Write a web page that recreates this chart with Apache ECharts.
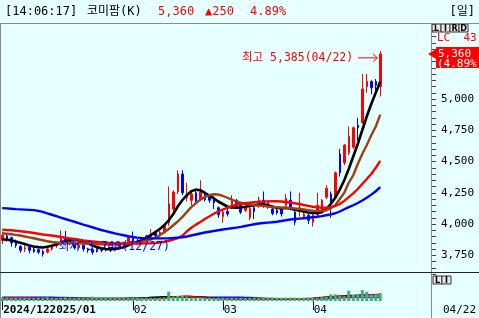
<!DOCTYPE html>
<html><head><meta charset="utf-8">
<script src="https://cdn.jsdelivr.net/npm/echarts@6/dist/echarts.min.js"></script>
<style>html,body{margin:0;padding:0;background:#e6ffff}#c{width:479px;height:318px}</style>
</head><body><div id="c"></div>
<script>
// ---------------- data ----------------
const dates = [
 '2024/12/13','2024/12/16','2024/12/17','2024/12/18','2024/12/19','2024/12/20','2024/12/23','2024/12/24','2024/12/26','2024/12/27','2024/12/30',
 '2025/01/02','2025/01/03','2025/01/06','2025/01/07','2025/01/08','2025/01/09','2025/01/10','2025/01/13','2025/01/14','2025/01/15','2025/01/16','2025/01/17','2025/01/20','2025/01/21','2025/01/22','2025/01/23','2025/01/24','2025/01/31',
 '2025/02/03','2025/02/04','2025/02/05','2025/02/06','2025/02/07','2025/02/10','2025/02/11','2025/02/12','2025/02/13','2025/02/14','2025/02/17','2025/02/18','2025/02/19','2025/02/20','2025/02/21','2025/02/24','2025/02/25','2025/02/26','2025/02/27','2025/02/28',
 '2025/03/04','2025/03/05','2025/03/06','2025/03/07','2025/03/10','2025/03/11','2025/03/12','2025/03/13','2025/03/14','2025/03/17','2025/03/18','2025/03/19','2025/03/20','2025/03/21','2025/03/24','2025/03/25','2025/03/26','2025/03/27','2025/03/28','2025/03/31',
 '2025/04/01','2025/04/02','2025/04/03','2025/04/04','2025/04/07','2025/04/08','2025/04/09','2025/04/10','2025/04/11','2025/04/14','2025/04/15','2025/04/16','2025/04/17','2025/04/18','2025/04/21','2025/04/22'
];
const open = [
 3870,3905,3890,3860,3820,3800,3815,3800,3795,3780,
 3775,3800,3825,3850,3880,3870,3840,3810,3830,3800,
 3795,3780,3800,3790,3800,3790,3810,3830,3850,3890,
 3860,3850,3870,3900,3925,3905,3935,4010,4120,4260,
 4400,4210,4190,4250,4200,4230,4220,4210,4130,4060,
 4100,4150,4190,4150,4110,4050,4130,4145,4190,4140,
 4120,4110,4120,4150,4190,4095,4100,4060,4070,4015,
 4075,4110,4215,4240,4215,4560,4490,4570,4615,4790,
 4810,5100,5140,5140,5100];
const close = [
 3910,3880,3850,3830,3790,3810,3790,3780,3775,3760,
 3800,3820,3850,3880,3860,3845,3810,3830,3800,3790,
 3775,3800,3790,3800,3790,3810,3830,3850,3895,3860,
 3850,3875,3905,3925,3905,3935,3995,4160,4255,4400,
 4250,4245,4240,4185,4255,4195,4190,4170,4075,4095,
 4080,4190,4135,4095,4140,4125,4100,4190,4150,4175,
 4085,4090,4080,4205,4130,4015,4130,4080,4030,4070,
 4150,4190,4285,4175,4410,4410,4630,4700,4770,4770,
 5080,5140,5090,5110,5360];
const low = [
 3840,3860,3820,3810,3770,3775,3765,3770,3760,3740,
 3765,3785,3810,3840,3835,3830,3795,3800,3780,3770,
 3755,3770,3775,3780,3775,3780,3800,3815,3840,3840,
 3830,3840,3860,3880,3890,3895,3925,3985,4100,4240,
 4230,4180,4150,4170,4190,4180,4170,4120,4050,4010,
 4060,4120,4120,4080,4095,4030,4040,4130,4130,4120,
 4070,4075,4060,4120,4110,3990,4060,4040,4000,3980,
 4060,4090,4200,4050,4200,4380,4470,4550,4600,4670,
 4800,5050,5040,5060,5020];
const high = [
 3940,3925,3900,3875,3830,3830,3830,3820,3805,3795,
 3815,3830,3860,3950,3945,3885,3850,3845,3840,3810,
 3805,3815,3810,3815,3810,3820,3845,3860,3910,3940,
 3880,3885,3915,3960,3930,3945,4005,4300,4270,4430,
 4430,4330,4260,4270,4350,4250,4240,4220,4140,4110,
 4120,4230,4200,4160,4150,4140,4150,4220,4260,4190,
 4130,4120,4130,4240,4260,4110,4250,4100,4080,4080,
 4250,4200,4310,4260,4420,4600,4640,4780,4780,4850,
 5200,5200,5150,5160,5385];
const ma5 = [
 3878,3874,3870,3860,3850,3840,3828,3820,3815,3812,
 3818,3826,3836,3850,3862,3872,3878,3870,3858,3845,
 3830,3815,3806,3800,3798,3800,3806,3814,3830,3846,
 3858,3870,3890,3910,3935,3960,3990,4030,4080,4140,
 4190,4230,4262,4275,4270,4250,4228,4205,4180,4160,
 4140,4132,4130,4132,4138,4145,4150,4155,4158,4150,
 4140,4130,4125,4128,4125,4115,4108,4100,4092,4088,
 4088,4095,4120,4160,4210,4275,4350,4440,4540,4640,
 4750,4860,4960,5050,5140];
const ma20 = [
 3926,3922,3918,3913,3908,3900,3893,3886,3878,3870,
 3862,3856,3852,3849,3847,3846,3846,3846,3844,3842,
 3840,3838,3837,3836,3836,3838,3840,3842,3845,3848,
 3852,3858,3866,3876,3890,3910,3934,3960,3990,4020,
 4055,4095,4135,4165,4195,4215,4230,4238,4236,4225,
 4210,4195,4180,4170,4162,4156,4151,4148,4145,4140,
 4136,4134,4132,4130,4128,4124,4120,4116,4110,4106,
 4103,4104,4110,4125,4150,4200,4250,4330,4390,4480,
 4560,4630,4710,4780,4875];
const ma60 = [
 3955,3952,3950,3946,3942,3938,3934,3928,3922,3916,
 3912,3908,3902,3896,3890,3885,3880,3875,3868,3864,
 3860,3856,3852,3850,3848,3846,3845,3844,3843,3843,
 3843,3844,3845,3846,3848,3852,3858,3866,3876,3888,
 3905,3940,3970,3995,4015,4040,4060,4082,4100,4115,
 4130,4142,4152,4160,4166,4170,4174,4177,4179,4181,
 4182,4182,4180,4176,4172,4166,4160,4152,4145,4138,
 4134,4130,4130,4135,4145,4160,4185,4215,4245,4280,
 4320,4360,4400,4450,4505];
const ma120 = [
 4127,4125,4122,4119,4117,4115,4113,4111,4105,4097,
 4085,4074,4063,4051,4040,4029,4018,4007,3995,3985,
 3974,3963,3952,3943,3934,3925,3917,3910,3902,3896,
 3891,3888,3886,3885,3885,3885,3885,3886,3888,3891,
 3894,3900,3908,3916,3924,3932,3938,3944,3950,3956,
 3961,3966,3971,3977,3984,3991,3998,4004,4008,4011,
 4014,4018,4024,4030,4036,4040,4043,4046,4050,4054,
 4058,4063,4070,4077,4086,4100,4118,4135,4150,4168,
 4188,4210,4235,4262,4295];
const volume = [
 350,330,320,340,330,330,320,310,330,340,
 430,330,320,340,380,330,320,310,330,320,
 430,330,320,310,320,330,320,330,330,330,
 320,330,340,330,320,330,350,930,450,520,
 500,430,360,340,350,330,330,330,340,330,
 320,330,320,330,320,330,340,330,320,330,
 320,330,320,330,340,330,320,330,340,330,
 340,380,430,670,670,530,450,1030,600,670,
 1100,930,600,670,800];
const volMa5 = [
 310,310,310,300,300,300,290,280,270,260,
 240,230,230,230,230,230,230,230,230,230,
 230,230,230,230,230,230,230,230,230,230,
 230,230,230,230,230,240,260,330,380,420,
 470,500,470,400,340,300,270,240,230,230,
 230,230,230,230,230,230,230,230,230,230,
 230,230,230,230,230,230,230,230,230,240,
 260,290,330,360,380,400,420,450,480,520,
 560,600,630,650,660];
const volMa20 = [
 200,200,200,200,195,190,185,180,180,175,
 175,175,175,175,175,175,175,175,175,175,
 175,175,175,175,175,175,180,185,190,200,
 220,260,300,340,380,410,430,430,430,430,
 430,430,430,420,400,370,330,290,250,220,
 200,185,175,170,170,170,170,170,170,170,
 170,170,170,175,180,190,200,220,250,280,
 320,360,400,430,460,490,510,540,560,580,
 600,615,625,630,635];
const volMa60 = [
 370,370,370,370,370,370,370,370,370,370,
 370,365,360,350,340,330,320,310,300,290,
 280,275,270,270,270,270,275,280,290,300,
 310,320,330,340,350,355,360,365,370,370,
 370,370,370,370,370,370,370,370,370,370,
 370,370,370,365,355,340,320,300,280,260,
 240,220,210,200,200,200,200,200,200,200,
 200,210,230,260,290,320,345,360,370,372,
 372,372,372,372,372];
const monthLabels = ['2024/12','2025/01','02','03','04'];
const lowMark = {price: 3740, date: '12/27'};
const highMark = {price: 5385, date: '04/22'};
const header = {time: '[14:06:17]', name: '코미팜(K)', price: '5,360', change: '▲250', rate: '4.89%', period: '[일]'};
const lastPrice = 5360, lastRate = '(4.89%)';

// ---------------- build ----------------
const PAD = 11;
const cats = dates.concat(new Array(PAD).fill(''));
const monthStart = [];
dates.forEach((d, i) => { if (i === 0 || d.slice(0, 7) !== dates[i - 1].slice(0, 7)) monthStart.push(i); });
const shownTicks = [monthStart[0]].concat(monthStart.slice(2));
const tickFn = (idx) => shownTicks.indexOf(idx) >= 0;
const MONO = "'DejaVu Sans Mono','Noto Sans CJK KR',monospace";

const chart = echarts.init(document.getElementById('c'), null, {renderer: 'canvas'});
const candle = dates.map((d, i) => [open[i], close[i], low[i], high[i]]);
const maLine = (data, color, w, z) => ({type: 'line', xAxisIndex: 0, yAxisIndex: 0, data, symbol: 'none', showSymbol: false, z,
  lineStyle: {color, width: w}, silent: true});
const vLine = (data, color) => ({type: 'line', xAxisIndex: 1, yAxisIndex: 1, data, symbol: 'none', showSymbol: false, z: 1,
  lineStyle: {color, width: 1.5}, silent: true});

chart.setOption({
  backgroundColor: '#e6ffff',
  animation: false,
  grid: [{left: 0, top: 24, width: 432, height: 250}, {left: 0, top: 272, width: 432, height: 29}],
  xAxis: [
    {type: 'category', gridIndex: 0, data: cats, boundaryGap: true, axisLine: {show: false}, axisTick: {show: false}, axisLabel: {show: false}},
    {type: 'category', gridIndex: 1, data: cats, boundaryGap: true, axisLine: {show: false},
      axisTick: {show: true, alignWithLabel: true, interval: tickFn, length: 9, lineStyle: {color: '#000'}},
      axisLabel: {interval: tickFn, align: 'left', margin: 4, color: '#000', fontFamily: MONO, fontSize: 11, padding: [0, 0, 0, 1],
        formatter: (v, idx) => {
          if (idx === monthStart[0]) return '{b|' + monthLabels[0] + monthLabels[1] + '}';
          const k = monthStart.indexOf(idx);
          return k > 1 ? monthLabels[k] : '';
        },
        rich: {b: {fontWeight: 'bold', fontFamily: MONO, fontSize: 11, color: '#000'}}}}
  ],
  yAxis: [
    {type: 'value', gridIndex: 0, position: 'right', min: 3600, max: 5600, interval: 50,
      splitLine: {show: false}, axisLine: {show: false},
      axisTick: {show: true, length: 4, lineStyle: {color: '#444'}},
      axisLabel: {margin: 9, color: '#000', fontFamily: MONO, fontSize: 11,
        formatter: (v) => (v % 250 === 0 && v >= 3750 && v <= 5000) ? v.toLocaleString('en-US') : ''}},
    {type: 'value', gridIndex: 1, min: 0, max: 2900, show: false}
  ],
  series: [
    {type: 'candlestick', xAxisIndex: 0, yAxisIndex: 0, data: candle, barWidth: 2, z: 2,
      itemStyle: {color: '#ff0000', color0: '#0000ff', borderColor: '#ff0000', borderColor0: '#0000ff', borderWidth: 1}},
    maLine(ma5, '#000000', 2.6, 3),
    maLine(ma20, '#a04010', 2.4, 4),
    maLine(ma60, '#ff0000', 2.4, 5),
    maLine(ma120, '#0000ff', 2.4, 6),
    vLine(volMa60, '#0000ff'),
    vLine(volMa20, '#000000'),
    vLine(volMa5, '#ff0000'),
    {type: 'bar', xAxisIndex: 1, yAxisIndex: 1, data: volume, barWidth: 3, z: 5, itemStyle: {color: '#3cb371'}}
  ]
});

// ---------------- overlays (positions from axes) ----------------
const P = (i, v) => chart.convertToPixel({gridIndex: 0}, [i, v]);
const last = dates.length - 1;
const pPrice = P(last, lastPrice);
const pHigh = P(last, highMark.price);
const lowIdx = dates.findIndex(d => d.slice(5) === lowMark.date);
const pLow = P(lowIdx, lowMark.price);
const txt = (text, x, y, fill, size, opts) => Object.assign({type: 'text', z: 50, style: Object.assign({
  text, x, y, fill, fontSize: size, fontFamily: MONO, textVerticalAlign: 'middle', verticalAlign: 'middle', textAlign: 'left', align: 'left'}, opts || {})});
const ln = (x1, y1, x2, y2, stroke, w) => ({type: 'line', z: 40, shape: {x1, y1, x2, y2}, style: {stroke, lineWidth: w || 1}});
const box = (x, y, w, h, letter) => ({type: 'group', z: 60, children: [
  {type: 'rect', shape: {x, y, width: w, height: h}, style: {fill: '#e8e8e8', stroke: '#333', lineWidth: 1}},
  {type: 'text', style: {text: letter, x: x + w / 2, y: y + h / 2 + 0.5, fill: '#000', fontSize: 8, fontWeight: 'bold', fontFamily: "'DejaVu Sans'", textAlign: 'center', align: 'center', textVerticalAlign: 'middle', verticalAlign: 'middle'}}]});

const fmt = (v) => v.toLocaleString('en-US');
const graphics = [
  {type: 'rect', z: 30, shape: {x: 0, y: 0, width: 479, height: 24}, style: {fill: '#e6ffff'}},
  ln(0, 23.5, 479, 23.5, '#8a8a8a'),
  ln(0.5, 24, 0.5, 318, '#8a8a8a'),
  ln(431.5, 24, 431.5, 318, '#8a8a8a'),
  ln(0, 272.5, 479, 272.5, '#222'),
  txt(header.time, 5, 12, '#000', 12),
  txt(header.name, 87, 12, '#000', 12),
  txt(header.price, 158, 12, '#ff0000', 12),
  txt(header.change, 205, 12, '#ff0000', 12),
  txt(header.rate, 250, 12, '#ff0000', 12),
  txt(header.period, 475, 12, '#000', 12, {textAlign: 'right', align: 'right'}),
  box(432, 24, 9, 8, 'L'), box(441, 24, 9, 8, 'I'), box(450, 24, 9, 8, 'R'), box(459, 24, 9, 8, 'D'),
  box(433, 276, 9, 8, 'L'), box(442, 276, 9, 8, 'I'),
  txt('LC  43,', 437, 38, '#ff0000', 11),
  // current price box
  {type: 'rect', z: 45, shape: {x: 436, y: pPrice[1] - 7, width: 43, height: 21}, style: {fill: '#ff0000'}},
  {type: 'polygon', z: 45, shape: {points: [[428, pPrice[1]], [436, pPrice[1] - 5], [436, pPrice[1] + 5]]}, style: {fill: '#ff0000'}},
  txt(fmt(lastPrice), 438, pPrice[1], '#ffffff', 11, {}),
  txt(lastRate, 437, pPrice[1] + 10, '#ffffff', 11, {}),
  // high label
  txt('최고 ' + fmt(highMark.price) + '(' + highMark.date + ')', 242, pHigh[1] + 7, '#ff0000', 11.5),
  ln(358, pHigh[1] + 7, pHigh[0] - 3, pHigh[1] + 7, '#ff0000'),
  ln(pHigh[0] - 7, pHigh[1] + 3, pHigh[0] - 3, pHigh[1] + 7, '#ff0000'),
  ln(pHigh[0] - 7, pHigh[1] + 11, pHigh[0] - 3, pHigh[1] + 7, '#ff0000'),
  // low label
  txt('최저 ' + fmt(lowMark.price) + '(' + lowMark.date + ')', pLow[0] + 16, pLow[1] - 9, '#0000ff', 11.5),
  // last date box
  txt(dates[last].slice(5), 443, 310, '#000', 11)
];
chart.setOption({graphic: graphics});
</script></body></html>
